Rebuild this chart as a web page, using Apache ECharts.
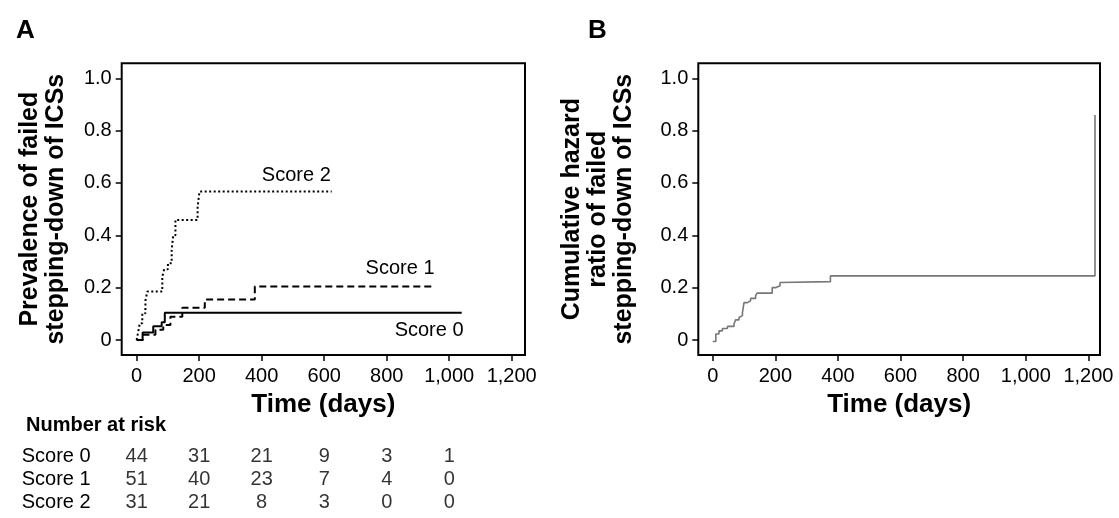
<!DOCTYPE html>
<html>
<head>
<meta charset="utf-8">
<script src="https://cdn.jsdelivr.net/npm/echarts@6/dist/echarts.min.js"></script>
<style>
html,body{margin:0;padding:0;background:#fff;}
#chart{width:1119px;height:518px;}
</style>
</head>
<body>
<div id="chart"></div>
<script>
// ---------- data ----------
var xTicks = [0, 200, 400, 600, 800, 1000, 1200];
var yTicks = [0, 0.2, 0.4, 0.6, 0.8, 1.0];

var score0T = [0, 19, 53, 80, 90, 1040];
var score0Y = [0, 0.029, 0.053, 0.068, 0.104, 0.104];

var score1T = [0, 20, 60, 85, 108, 146, 218, 378, 954];
var score1Y = [0, 0.020, 0.039, 0.057, 0.089, 0.123, 0.155, 0.204, 0.204];

var score2T = [0, 5, 10, 18, 28, 34, 82, 88, 100, 112, 117, 124, 195, 201, 624];
var score2Y = [0, 0.032, 0.064, 0.102, 0.150, 0.185, 0.242, 0.270, 0.293, 0.344, 0.400, 0.459, 0.510, 0.567, 0.567];

var hazardT = [0, 10, 20, 31, 47, 68, 73, 84, 89, 95, 100, 111, 121, 137, 142, 190, 201, 215, 217, 376, 1221];
var hazardY = [-0.006, 0.023, 0.035, 0.044, 0.052, 0.061, 0.077, 0.086, 0.093, 0.105, 0.143, 0.150, 0.159, 0.169, 0.179, 0.200, 0.207, 0.220, 0.223, 0.245, 0.860];

var curveNames = ['Score 0', 'Score 1', 'Score 2'];
// label anchor [time, value] (right end of each curve label)
var curveLabelT = [1046, 953, 621];
var curveLabelY = [0.038, 0.274, 0.63];

var riskTimes = [0, 200, 400, 600, 800, 1000];
var riskScore0 = [44, 31, 21, 9, 3, 1];
var riskScore1 = [51, 40, 23, 7, 4, 0];
var riskScore2 = [31, 21, 8, 3, 0, 0];

// ---------- build ----------
function pairs(t, y) { return t.map(function (v, i) { return [v, y[i]]; }); }
function fmtX(v) { return String(v).replace(/\B(?=(\d{3})+(?!\d))/g, ','); }
function fmtY(v) { return v === 0 ? '0' : v.toFixed(1); }

var FONT = 'Liberation Sans, Arial, Helvetica, sans-serif';

function xAxisFor(gridIndex, min, max) {
  return {
    type: 'value', gridIndex: gridIndex, min: min, max: max, position: 'bottom',
    name: 'Time (days)', nameLocation: 'middle', nameGap: 37,
    nameTextStyle: { fontSize: 26, fontWeight: 'bold', color: '#000', fontFamily: FONT },
    axisLine: { show: false, onZero: false },
    axisTick: { show: true, inside: false, length: 6, customValues: xTicks, lineStyle: { color: '#000', width: 1.5 } },
    axisLabel: { customValues: xTicks, formatter: fmtX, fontSize: 20, color: '#000', margin: 11, fontFamily: FONT },
    splitLine: { show: false }
  };
}
function yAxisFor(gridIndex, name, gap) {
  return {
    type: 'value', gridIndex: gridIndex, min: -0.0573, max: 1.0573, position: 'left',
    name: name, nameLocation: 'middle', nameGap: gap, nameRotate: 90,
    nameTextStyle: { fontSize: 25, fontWeight: 'bold', color: '#000', lineHeight: 26, fontFamily: FONT },
    axisLine: { show: false, onZero: false },
    axisTick: { show: true, inside: false, length: 6, customValues: yTicks, lineStyle: { color: '#000', width: 1.5 } },
    axisLabel: { customValues: yTicks, formatter: fmtY, fontSize: 20, color: '#000', margin: 10, fontFamily: FONT },
    splitLine: { show: false }
  };
}

var styles = [
  { color: '#000', width: 2, type: 'solid' },
  { color: '#000', width: 2, type: [7, 4] },
  { color: '#000', width: 2, type: [2, 2.5] }
];
var curvesT = [score0T, score1T, score2T];
var curvesY = [score0Y, score1Y, score2Y];

var series = curveNames.map(function (nm, i) {
  return {
    name: nm, type: 'line', xAxisIndex: 0, yAxisIndex: 0, step: 'end',
    showSymbol: false, symbol: 'none', lineStyle: styles[i],
    data: pairs(curvesT[i], curvesY[i]),
    markPoint: {
      symbol: 'circle', symbolSize: 0, silent: true,
      label: { show: true, position: 'left', distance: 0, formatter: nm, fontSize: 20, color: '#000', fontFamily: FONT },
      data: [{ coord: [curveLabelT[i], curveLabelY[i]] }]
    }
  };
});

series.push({
  name: 'Cumulative hazard', type: 'line', xAxisIndex: 1, yAxisIndex: 1, step: 'end',
  showSymbol: false, symbol: 'none', lineStyle: { color: '#777', width: 1.6 },
  data: pairs(hazardT, hazardY)
});

var riskRows = [riskScore0, riskScore1, riskScore2];
var riskData = [];
riskRows.forEach(function (row, r) {
  row.forEach(function (v, c) { riskData.push([riskTimes[c], r, v]); });
});
series.push({
  name: 'Number at risk', type: 'scatter', xAxisIndex: 2, yAxisIndex: 2,
  symbolSize: 0, silent: true,
  label: { show: true, position: 'inside', formatter: function (p) { return String(p.value[2]); }, fontSize: 20, color: '#000', fontFamily: FONT },
  data: riskData
});

var option = {
  animation: false,
  backgroundColor: '#fff',
  textStyle: { fontFamily: FONT },
  title: [
    { text: 'A', left: 11, top: 13, textStyle: { fontSize: 26, fontWeight: 'bold', color: '#000', fontFamily: FONT } },
    { text: 'B', left: 583, top: 13, textStyle: { fontSize: 26, fontWeight: 'bold', color: '#000', fontFamily: FONT } },
    { text: 'Number at risk', left: 21, top: 410, textStyle: { fontSize: 20, fontWeight: 'bold', color: '#000', fontFamily: FONT } }
  ],
  grid: [
    { left: 121.7, top: 63.3, width: 403.3, height: 291.7, show: true, borderColor: '#000', borderWidth: 2, backgroundColor: 'transparent' },
    { left: 698.3, top: 63.3, width: 401.7, height: 291.7, show: true, borderColor: '#000', borderWidth: 2, backgroundColor: 'transparent' },
    { left: 121.7, top: 444.5, width: 403.3, height: 69 }
  ],
  xAxis: [
    xAxisFor(0, -47.9, 1242.5),
    xAxisFor(1, -46, 1237),
    { type: 'value', gridIndex: 2, min: -47.9, max: 1242.5, show: false }
  ],
  yAxis: [
    yAxisFor(0, 'Prevalence of failed\nstepping-down of ICSs', 53),
    yAxisFor(1, 'Cumulative hazard\nratio of failed\nstepping-down of ICSs', 61),
    {
      type: 'category', gridIndex: 2, data: curveNames, inverse: true,
      axisLine: { show: false }, axisTick: { show: false }, splitLine: { show: false },
      axisLabel: { interval: 0, align: 'left', margin: 100, fontSize: 20, color: '#000', fontFamily: FONT }
    }
  ],
  series: series
};

var chart = echarts.init(document.getElementById('chart'), null, { renderer: 'canvas' });
chart.setOption(option);
</script>
</body>
</html>
